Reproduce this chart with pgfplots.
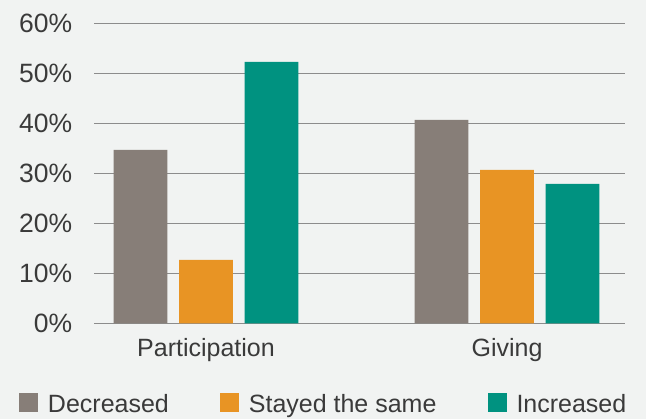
\documentclass[border=0pt]{standalone}
\usepackage{pgfplots}
\pgfplotsset{compat=1.18}
\usepackage{fontspec}
\setmainfont{Liberation Sans}
\definecolor{bg}{HTML}{F1F3F2}
\definecolor{cgray}{HTML}{877E78}
\definecolor{corange}{HTML}{E89424}
\definecolor{cteal}{HTML}{009280}
\definecolor{gridc}{HTML}{8C8C8C}
\definecolor{txt}{HTML}{3A3A3A}
\begin{document}
\begin{tikzpicture}[font=\fontsize{25}{30}\selectfont]
\fill[bg] (-94.3pt,-95.7pt) rectangle (551.7pt,323.3pt);
\useasboundingbox (-94.3pt,-95.7pt) rectangle (551.7pt,323.3pt);
\begin{axis}[
  at={(0,0)}, anchor=south west,
  scale only axis, width=530.7pt, height=300pt,
  xmin=-0.371, xmax=1.392, ymin=0, ymax=60,
  axis line style={draw=none},
  major tick length=0pt,
  ymajorgrids, grid style={gridc, line width=1.2pt},
  ytick={0,10,...,60},
  /pgf/number format/assume math mode=true,
  yticklabel={\pgfmathprintnumber{\tick}\%},
  xtick={0,1}, xticklabels={Participation,Giving},
  tick label style={text=txt, inner sep=0pt},
  yticklabel style={anchor=east, font=\fontsize{26.5}{30}\selectfont},
  yticklabel shift=22pt,
  xticklabel style={anchor=base},
  xticklabel shift=33.7pt,
  legend columns=3,
  legend cell align=left,
  legend image code/.code={\fill[#1] (0pt,-8pt) rectangle (19pt,11.4pt);},
  legend style={at={(0,0)}, anchor=north west, xshift=-75.3pt, yshift=-69.3pt,
    draw=none, fill=none, inner sep=0pt, outer sep=0pt,
    nodes={inner sep=0pt, text=txt},
    /tikz/every odd column/.append style={column sep=10pt},
    /tikz/every even column/.append style={column sep=51pt}},
]
\addplot[ybar, bar width=0.179, bar shift=-0.2176, fill=cgray, draw=none] coordinates {(0,34.7) (1,40.7)};
\addlegendentry{Decreased}
\addplot[ybar, bar width=0.179, bar shift=0, fill=corange, draw=none] coordinates {(0,12.7) (1,30.7)};
\addlegendentry{Stayed the same}
\addplot[ybar, bar width=0.179, bar shift=0.2176, fill=cteal, draw=none] coordinates {(0,52.3) (1,27.9)};
\addlegendentry{Increased}
\end{axis}
\end{tikzpicture}
\end{document}
